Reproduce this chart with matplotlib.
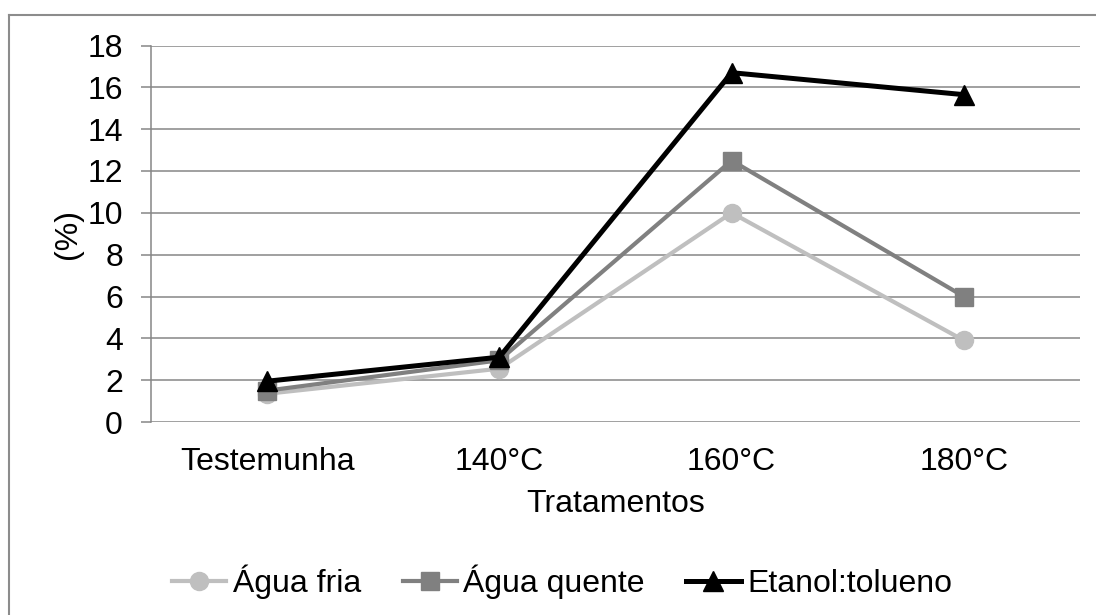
import matplotlib
matplotlib.use("Agg")
import matplotlib.pyplot as plt
from matplotlib.lines import Line2D

categories = ["Testemunha", "140°C", "160°C", "180°C"]
agua_fria = [1.35, 2.55, 10.0, 3.9]
agua_quente = [1.5, 2.95, 12.5, 6.0]
etanol_tolueno = [1.95, 3.1, 16.7, 15.65]
series_names = ["Água fria", "Água quente", "Etanol:tolueno"]
yticks = list(range(0, 19, 2))

plt.rcParams['font.family'] = ['Liberation Sans', 'DejaVu Sans']
plt.rcParams['font.size'] = 23

W, H = 1096, 615
fig = plt.figure(figsize=(W / 100, H / 100), dpi=100)
ax = fig.add_axes([151 / W, 1 - 422 / H, (1080 - 151) / W, (422 - 45.5) / H])

grid_c = '#868686'
x = list(range(len(categories)))
ax.plot(x, agua_fria, color='#BFBFBF', lw=3.0, marker='o', ms=13, label=series_names[0], zorder=3)
ax.plot(x, agua_quente, color='#808080', lw=3.0, marker='s', ms=13, label=series_names[1], zorder=4)
ax.plot(x, etanol_tolueno, color='#000000', lw=3.6, marker='^', ms=14, label=series_names[2], zorder=5)

ax.set_xlim(-0.5, len(categories) - 0.5)
ax.set_ylim(0, 18)
ax.set_yticks(yticks)
ax.set_xticks(x)
ax.set_xticklabels(categories)
ax.yaxis.grid(True, color=grid_c, lw=1.1)
ax.set_axisbelow(True)
for s in ['top', 'right', 'bottom']:
    ax.spines[s].set_visible(False)
ax.spines['left'].set_color(grid_c)
ax.spines['left'].set_linewidth(1.1)
ax.tick_params(axis='y', length=7.2, width=1.1, color=grid_c, pad=13)
ax.tick_params(axis='x', length=0, pad=18)
ax.set_xlabel("Tratamentos", labelpad=9)
ax.set_ylabel("(%)", labelpad=3)

fig.legend(loc='center', bbox_to_anchor=(562 / W, 1 - 582 / H), ncol=3, frameon=False,
           handlelength=1.7, handletextpad=0.2, columnspacing=1.3, borderaxespad=0)

fig.add_artist(Line2D([9.3 / W, 9.3 / W], [0, 1 - 15 / H], transform=fig.transFigure, color='#8c8c8c', lw=1.5))
fig.add_artist(Line2D([9.3 / W, 1.0], [1 - 15 / H, 1 - 15 / H], transform=fig.transFigure, color='#8c8c8c', lw=1.5))

fig.savefig("out.png", dpi=100)
